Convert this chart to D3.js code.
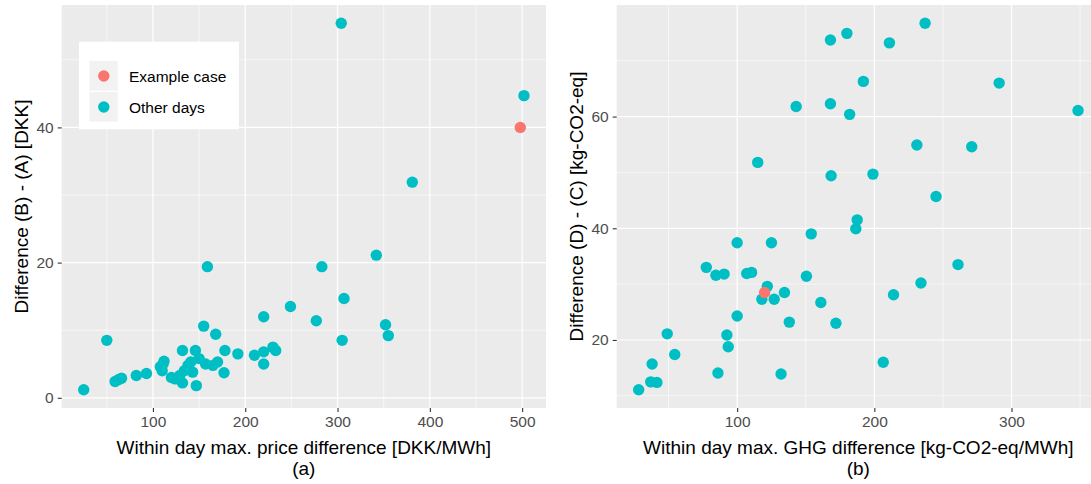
<!DOCTYPE html>
<html>
<head>
<meta charset="utf-8">
<script src="https://cdn.jsdelivr.net/npm/d3@7"></script>
<style>
  html, body { margin: 0; padding: 0; background: #ffffff; }
  svg { display: block; font-family: Arial, "Liberation Sans", sans-serif; }
</style>
</head>
<body>
<svg id="chart" width="1091" height="484"></svg>
<script>
// ---------- Data: panel (a) ----------
const seriesNames = ["Example case", "Other days"];
const priceDiffOther = [25, 50, 59, 63, 66, 82, 93, 108, 110, 112, 111, 120, 124, 129, 132, 132, 134, 138, 141, 143, 146, 147, 150, 155, 157, 159, 165, 168, 170, 177, 178, 192, 210, 220, 220, 220, 230, 233, 249, 277, 283, 305, 307, 304, 342, 352, 355, 381, 502];
const costDiffOther  = [1.2, 8.5, 2.4, 2.7, 2.9, 3.3, 3.6, 4.6, 4.0, 5.4, 5.0, 3.0, 2.8, 3.3, 2.2, 7.0, 4.0, 4.8, 5.3, 3.8, 7.0, 1.8, 5.8, 10.6, 5.0, 19.4, 4.8, 9.4, 5.3, 3.7, 7.0, 6.5, 6.3, 6.8, 5.0, 12.0, 7.5, 7.0, 13.5, 11.4, 19.4, 8.5, 14.7, 55.4, 21.1, 10.8, 9.2, 31.9, 44.7];
const priceDiffExample = [498];
const costDiffExample  = [40.0];
const xTicksA = [100, 200, 300, 400, 500];
const yTicksA = [0, 20, 40];
const xMinorA = [50, 150, 250, 350, 450];
const yMinorA = [10, 30, 50];

// ---------- Data: panel (b) ----------
const ghgDiffOther  = [237, 180, 168, 211, 192, 291, 143, 168, 182, 348.5, 231, 271, 115, 168.5, 199, 245, 187.5, 186.5, 154, 100, 125, 77.5, 84.5, 90.5, 107, 110.5, 261, 150.5, 234, 122, 118, 127, 134.5, 214, 161, 100, 138, 172, 49, 92.5, 93.5, 54.5, 206.5, 38, 86, 132, 37, 41.5, 28.2];
const emisDiffOther = [76.7, 74.9, 73.7, 73.2, 66.3, 66.0, 61.8, 62.3, 60.4, 61.1, 54.9, 54.6, 51.8, 49.4, 49.7, 45.7, 41.5, 39.9, 39.0, 37.4, 37.4, 33.0, 31.6, 31.8, 31.9, 32.1, 33.5, 31.4, 30.2, 29.6, 27.3, 27.3, 28.5, 28.1, 26.7, 24.3, 23.2, 23.0, 21.1, 20.9, 18.8, 17.4, 16.0, 15.7, 14.1, 13.9, 12.5, 12.4, 11.1];
const ghgDiffExample  = [120];
const emisDiffExample = [28.5];
const xTicksB = [100, 200, 300];
const yTicksB = [20, 40, 60];
const xMinorB = [50, 150, 250, 350];
const yMinorB = [10, 30, 50, 70];

const colors = {"Example case": "#F8766D", "Other days": "#00BFC4"};

const svg = d3.select("#chart");

function expandDomain(vals) {
  const [lo, hi] = d3.extent(vals);
  const pad = (hi - lo) * 0.05;
  return [lo - pad, hi + pad];
}

function panel(opt) {
  const x = d3.scaleLinear()
    .domain(expandDomain(opt.xOther.concat(opt.xEx)))
    .range([opt.left, opt.right]);
  const y = d3.scaleLinear()
    .domain(expandDomain(opt.yOther.concat(opt.yEx)))
    .range([opt.bottom, opt.top]);

  const clipId = "clip-" + opt.id;
  svg.append("clipPath").attr("id", clipId)
    .append("rect")
    .attr("x", opt.left).attr("y", opt.top)
    .attr("width", opt.right - opt.left).attr("height", opt.bottom - opt.top);

  const g = svg.append("g");
  g.append("rect")
    .attr("x", opt.left).attr("y", opt.top)
    .attr("width", opt.right - opt.left).attr("height", opt.bottom - opt.top)
    .attr("fill", "#EBEBEB");

  const [xd0, xd1] = x.domain();
  const [yd0, yd1] = y.domain();
  const grid = g.append("g").attr("clip-path", `url(#${clipId})`);
  // minor grid
  grid.selectAll(".vminor").data(opt.xMinor.filter(v => v >= xd0 && v <= xd1)).join("line")
    .attr("x1", d => x(d)).attr("x2", d => x(d))
    .attr("y1", opt.top).attr("y2", opt.bottom)
    .attr("stroke", "#ffffff").attr("stroke-width", 0.6);
  grid.selectAll(".hminor").data(opt.yMinor.filter(v => v >= yd0 && v <= yd1)).join("line")
    .attr("y1", d => y(d)).attr("y2", d => y(d))
    .attr("x1", opt.left).attr("x2", opt.right)
    .attr("stroke", "#ffffff").attr("stroke-width", 0.6);
  // major grid
  grid.selectAll(".vmajor").data(opt.xTicks).join("line")
    .attr("x1", d => x(d)).attr("x2", d => x(d))
    .attr("y1", opt.top).attr("y2", opt.bottom)
    .attr("stroke", "#ffffff").attr("stroke-width", 1.2);
  grid.selectAll(".hmajor").data(opt.yTicks).join("line")
    .attr("y1", d => y(d)).attr("y2", d => y(d))
    .attr("x1", opt.left).attr("x2", opt.right)
    .attr("stroke", "#ffffff").attr("stroke-width", 1.2);

  // axes
  const xAxis = d3.axisBottom(x).tickValues(opt.xTicks).tickSize(4).tickPadding(3);
  const gx = g.append("g").attr("transform", `translate(0,${opt.bottom})`).call(xAxis);
  gx.select(".domain").remove();
  gx.selectAll(".tick line").attr("stroke", "#333333").attr("stroke-width", 1.1);
  gx.selectAll(".tick text").attr("fill", "#4D4D4D").attr("font-size", "15.5px")
    .attr("font-family", "Arial, 'Liberation Sans', sans-serif").attr("dy", "0.75em");

  const yAxis = d3.axisLeft(y).tickValues(opt.yTicks).tickSize(4).tickPadding(4);
  const gy = g.append("g").attr("transform", `translate(${opt.left},0)`).call(yAxis);
  gy.select(".domain").remove();
  gy.selectAll(".tick line").attr("stroke", "#333333").attr("stroke-width", 1.1);
  gy.selectAll(".tick text").attr("fill", "#4D4D4D").attr("font-size", "15.5px")
    .attr("font-family", "Arial, 'Liberation Sans', sans-serif");

  // points
  const pts = g.append("g").attr("clip-path", `url(#${clipId})`);
  pts.selectAll(".other").data(d3.zip(opt.xOther, opt.yOther)).join("circle")
    .attr("cx", d => x(d[0])).attr("cy", d => y(d[1])).attr("r", 5.7)
    .attr("fill", colors["Other days"]);
  pts.selectAll(".ex").data(d3.zip(opt.xEx, opt.yEx)).join("circle")
    .attr("cx", d => x(d[0])).attr("cy", d => y(d[1])).attr("r", 5.7)
    .attr("fill", colors["Example case"]);

  // titles
  const cx = (opt.left + Math.min(opt.right, 1100)) / 2;
  g.append("text").attr("x", cx).attr("y", 453.5).attr("text-anchor", "middle")
    .attr("font-size", "19px").attr("fill", "#000").text(opt.xTitle);
  g.append("text").attr("x", cx).attr("y", 475).attr("text-anchor", "middle")
    .attr("font-size", "19px").attr("fill", "#000").text(opt.sub);
  const cy = (opt.top + opt.bottom) / 2;
  g.append("text").attr("transform", `translate(${opt.yTitleX},${cy}) rotate(-90)`)
    .attr("text-anchor", "middle").attr("font-size", "19px").attr("fill", "#000")
    .text(opt.yTitle);
  return g;
}

panel({
  id: "a", left: 61.7, right: 546, top: 5, bottom: 408,
  xOther: priceDiffOther, yOther: costDiffOther, xEx: priceDiffExample, yEx: costDiffExample,
  xTicks: xTicksA, yTicks: yTicksA, xMinor: xMinorA, yMinor: yMinorA,
  xTitle: "Within day max. price difference [DKK/MWh]", sub: "(a)",
  yTitle: "Difference (B) - (A) [DKK]", yTitleX: 28
});

panel({
  id: "b", left: 616.7, right: 1100, top: 5, bottom: 408,
  xOther: ghgDiffOther, yOther: emisDiffOther, xEx: ghgDiffExample, yEx: emisDiffExample,
  xTicks: xTicksB, yTicks: yTicksB, xMinor: xMinorB, yMinor: yMinorB,
  xTitle: "Within day max. GHG difference [kg-CO2-eq/MWh]", sub: "(b)",
  yTitle: "Difference (D) - (C) [kg-CO2-eq]", yTitleX: 583
});

// legend (panel a)
const lg = svg.append("g");
lg.append("rect").attr("x", 79).attr("y", 41.7).attr("width", 160).attr("height", 87.6).attr("fill", "#ffffff");
const keys = lg.selectAll(".key").data(seriesNames).join("g")
  .attr("transform", (d, i) => `translate(89.3,${61 + i * 31})`);
keys.append("rect").attr("width", 28.4).attr("height", 29.6).attr("fill", "#F2F2F2");
keys.append("circle").attr("cx", 14.5).attr("cy", 15).attr("r", 5.7).attr("fill", d => colors[d]);
keys.append("text").attr("x", 39.7).attr("y", 15).attr("dy", "0.36em")
  .attr("font-size", "15.5px").attr("fill", "#000").text(d => d);
</script>
</body>
</html>
